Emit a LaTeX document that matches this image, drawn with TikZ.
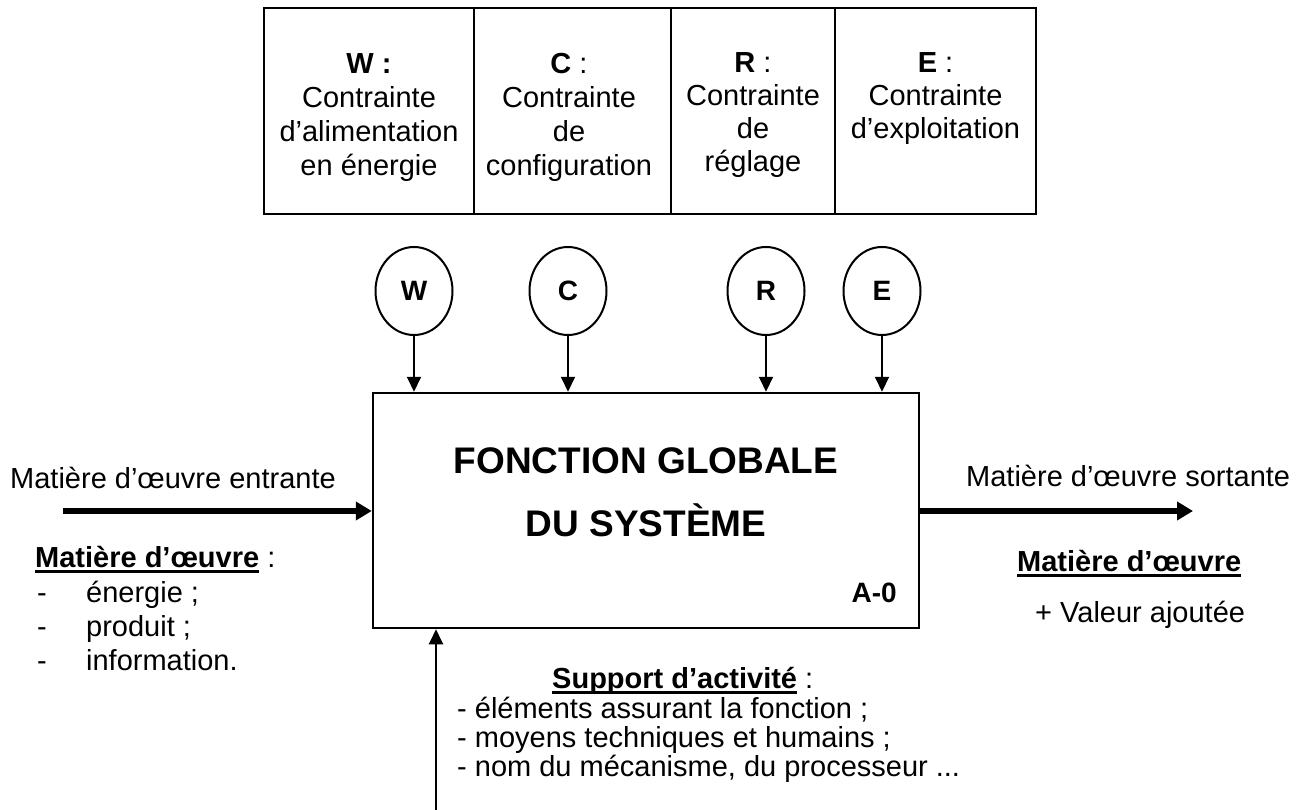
\documentclass[tikz,border=0pt]{standalone}
\usepackage{fontspec}
\setmainfont{Liberation Sans}
\usetikzlibrary{arrows.meta,shapes.geometric}
\newsavebox\ulbx
\newcommand\myul[1]{\sbox\ulbx{#1}\rlap{\rule[-6pt]{\wd\ulbx}{3pt}}\usebox\ulbx}
\begin{document}
\begin{tikzpicture}[x=1pt,y=-1pt,
  font=\fontsize{29}{34}\selectfont,
  txt/.style={inner sep=0pt,anchor=base west},
  ctxt/.style={inner sep=0pt,anchor=base},
  cell/.style={draw,line width=2.5pt,minimum height=206pt,inner sep=0pt},
  ell/.style={ellipse,draw,line width=2pt,minimum width=77pt,minimum height=88pt,inner sep=0pt,font=\fontsize{28}{28}\selectfont\bfseries},
  thinarrow/.style={line width=2pt,-{Triangle[length=15pt,width=14pt]}},
  thickarrow/.style={line width=6pt,-{Triangle[length=16pt,width=18pt]}}]
\useasboundingbox (0,0) rectangle (1306,810);
% top table
\node[cell,minimum width=210pt] (cW) at (369,111) {};
\node[cell,minimum width=197pt] (cC) at (572.5,111) {};
\node[cell,minimum width=164pt] (cR) at (753,111) {};
\node[cell,minimum width=201pt] (cE) at (935.5,111) {};
\node[ctxt] (w1) at (369,74) {\textbf{W :}};
\node[ctxt] (w2) at (369,108) {Contrainte};
\node[ctxt] (w3) at (369,142) {d’alimentation};
\node[ctxt] (w4) at (369,176) {en énergie};
\node[ctxt] (c1) at (569,74) {\textbf{C} :};
\node[ctxt] (c2) at (569,108) {Contrainte};
\node[ctxt] (c3) at (569,142) {de};
\node[ctxt] (c4) at (569,176) {configuration};
\node[ctxt] (r1) at (753,73) {\textbf{R} :};
\node[ctxt] (r2) at (753,106) {Contrainte};
\node[ctxt] (r3) at (753,139) {de};
\node[ctxt] (r4) at (753,172) {réglage};
\node[ctxt] (e1) at (935.5,73) {\textbf{E} :};
\node[ctxt] (e2) at (935.5,106) {Contrainte};
\node[ctxt] (e3) at (935.5,139) {d’exploitation};
% ellipses
\node[ell] (eW) at (414,291) {W};
\node[ell] (eC) at (568,291) {C};
\node[ell] (eR) at (766,291) {R};
\node[ell] (eE) at (882,291) {E};
% main box
\node[draw,line width=2.5pt,minimum width=546pt,minimum height=235pt,inner sep=0pt] (box) at (646,510.5) {};
\node[ctxt,font=\fontsize{37}{37}\selectfont\bfseries] (t1) at (646,473) {FONCTION GLOBALE};
\node[ctxt,font=\fontsize{37}{37}\selectfont\bfseries] (t2) at (646,536) {DU SYSTÈME};
\node[inner sep=0pt,anchor=base east,font=\fontsize{28}{28}\selectfont\bfseries] (a0) at (897,602) {A-0};
% control arrows
\foreach \e in {eW,eC,eR,eE}
  \draw[thinarrow] (\e.south) -- (\e.south |- box.north);
% input / output
\coordinate (inL) at (63,511);
\coordinate (outR) at (1193,511);
\draw[thickarrow] (inL) -- (inL -| box.west);
\draw[thickarrow] (outR -| box.east) -- (outR);
\coordinate (supB) at (436,810);
\draw[thinarrow] (supB) -- (supB |- box.south);
% left texts
\node[txt] (lin) at (10,488) {Matière d’œuvre entrante};
\node[txt] (lmo) at (35,567) {\myul{\textbf{Matière d’œuvre}} :};
\node[txt] (l1) at (37,602) {\makebox[49pt][l]{-}énergie ;};
\node[txt] (l2) at (37,636) {\makebox[49pt][l]{-}produit ;};
\node[txt] (l3) at (37,670) {\makebox[49pt][l]{-}information.};
% right texts
\node[txt] (rout) at (966,486) {Matière d’œuvre sortante};
\node[txt] (rmo) at (1017,571) {\myul{\textbf{Matière d’œuvre}}};
\node[txt] (rva) at (1035,622) {+ Valeur ajoutée};
% support
\node[txt] (sh) at (552,688) {\myul{\textbf{Support d’activité}} :};
\node[txt] (s1) at (457,718) {- éléments assurant la fonction ;};
\node[txt] (s2) at (457,747) {- moyens techniques et humains ;};
\node[txt] (s3) at (457,776) {- nom du mécanisme, du processeur ...};
\end{tikzpicture}
\end{document}
